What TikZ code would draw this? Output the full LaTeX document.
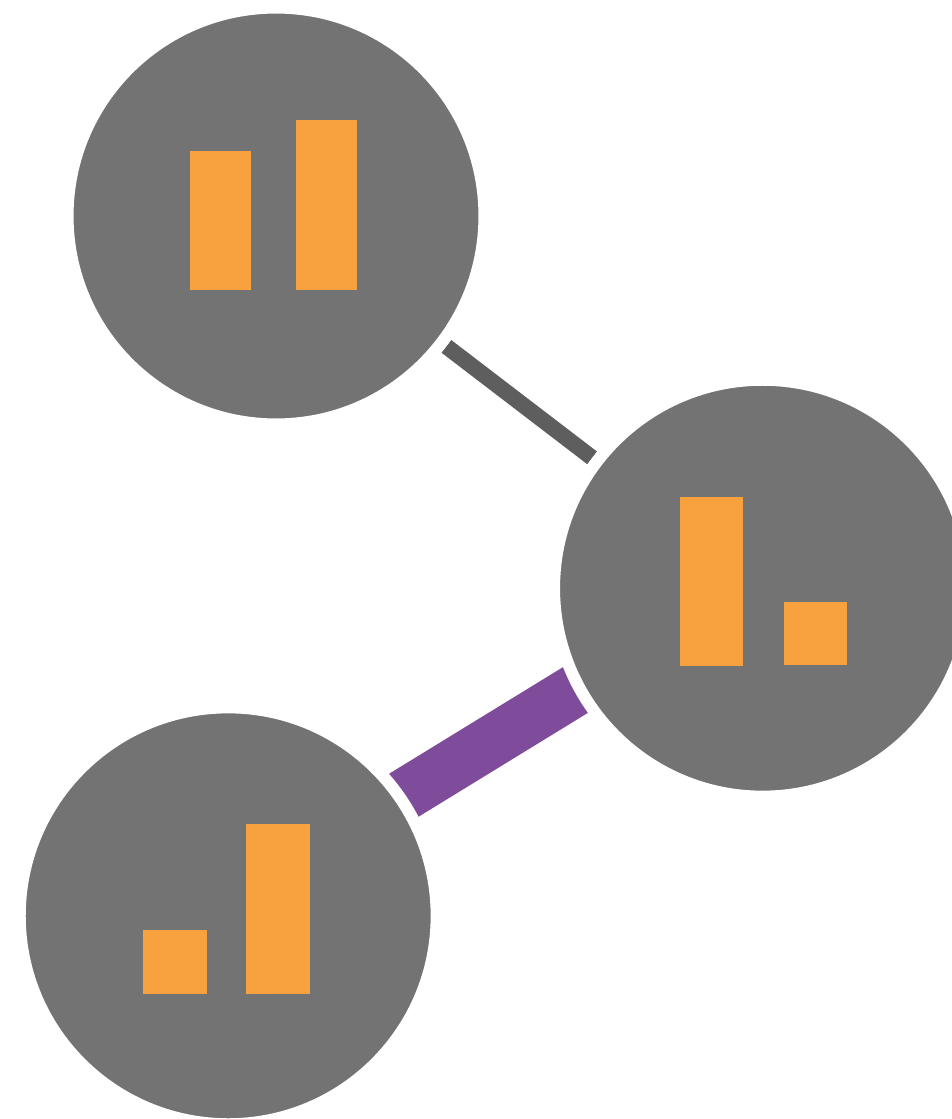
\documentclass[tikz,border=0pt]{standalone}
\usetikzlibrary{backgrounds}
\definecolor{hubgray}{HTML}{737373}
\definecolor{linkgray}{HTML}{5E5E5E}
\definecolor{linkpurple}{HTML}{7F4B9B}
\definecolor{barorange}{HTML}{F8A13F}

\begin{document}
\begin{tikzpicture}[x=0.02cm, y=-0.02cm,
  hub/.style={circle, fill=hubgray, draw=white, line width=0.24cm, minimum size=8.34cm, inner sep=0pt},
  bar/.style={fill=barorange},
  thin link/.style={draw=linkgray, line width=0.32cm, shorten <=4.29cm, shorten >=4.29cm},
  thick link/.style={draw=linkpurple, line width=1.04cm}]
\useasboundingbox (0,0) rectangle (952,1119);
\node[hub] (a) at (276,216) {};
\node[hub] (b) at (762.5,588.2) {};
\node[hub] (c) at (228.2,915.8) {};
% links sit under the hubs
\begin{scope}[on background layer]
\draw[thin link] (a.center) -- (b.center);
\draw[thick link] ([shift={(-5.7,-9.4)}]b.center) -- ([shift={(-5.7,-9.4)}]c.center);
\end{scope}
% bars
\fill[bar] (190,151) rectangle (251,290);
\fill[bar] (296,120) rectangle (357,290);
\fill[bar] (680,497) rectangle (743,666);
\fill[bar] (784,602) rectangle (847,665);
\fill[bar] (143,930) rectangle (207,993.5);
\fill[bar] (246,824) rectangle (310,993.5);
\end{tikzpicture}
\end{document}
